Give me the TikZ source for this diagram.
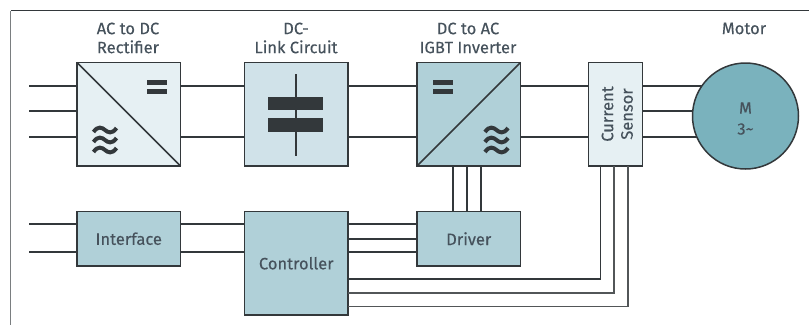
\documentclass[tikz,border=0pt]{standalone}
\usepackage{fontspec}
\setmainfont[FakeBold=0.25]{Fira Sans}
\definecolor{ink}{HTML}{33383B}
\definecolor{txt}{HTML}{46525C}
\definecolor{paleb}{HTML}{E6F0F3}
\definecolor{midb}{HTML}{D0E2E9}
\definecolor{tealb}{HTML}{B0D0D8}
\definecolor{motorb}{HTML}{7AB2BD}
\tikzset{
  x=1pt,y=-1pt,
  blockbox/.style={draw=ink,line width=1.5pt,inner sep=0pt,outer sep=0pt,anchor=north west,font=\fontsize{16.5}{19}\selectfont,text=txt},
  wire/.style={ink,line width=2pt},
  thickwire/.style={ink,line width=2.6pt},
  thinwire/.style={ink,line width=1.6pt},
  greywire/.style={ink!85,line width=1.6pt},
  lab/.style={text=txt,font=\fontsize{16.5}{19}\selectfont,align=center,inner sep=0pt},
  wave/.style={ink,line width=4pt}
}
\newcommand{\tildes}[2]{%
  \foreach \dy in {-10,0,10}{
    \draw[wave] (#1-11.5,#2+\dy+2) .. controls (#1-7,#2+\dy-4.5) and (#1-3,#2+\dy-2.5) .. (#1,#2+\dy) .. controls (#1+3,#2+\dy+2.5) and (#1+7,#2+\dy+4.5) .. (#1+11.5,#2+\dy-2);
  }}
\newcommand{\equalsign}[2]{%
  \fill[ink] (#1,#2) rectangle (#1+20,#2+5);
  \fill[ink] (#1,#2+9) rectangle (#1+20,#2+14);}
\begin{document}
\begin{tikzpicture}
\useasboundingbox (0,0) rectangle (809,325);
% frame
\draw[ink,line width=1pt] (809,10.5) -- (10.5,10.5);
\draw[ink!65,line width=1.5pt] (10.5,10.5) -- (10.5,325);
% nodes
\node[blockbox,fill=paleb,minimum width=103.5pt,minimum height=103.5pt] (rect) at (77,62.5) {};
\node[blockbox,fill=midb,minimum width=103.5pt,minimum height=103.5pt] (link) at (244.5,62.5) {};
\node[blockbox,fill=tealb,minimum width=103.5pt,minimum height=103.5pt] (inv) at (417,62.5) {};
\node[blockbox,fill=paleb,minimum width=54pt,minimum height=103.5pt] (sens) at (588.5,62.5) {};
\node[blockbox,fill=tealb,minimum width=103.5pt,minimum height=54.5pt] (iface) at (77,211.5) {Interface};
\node[blockbox,fill=tealb,minimum width=103.5pt,minimum height=103.5pt] (ctrl) at (244.5,211.5) {Controller};
\node[blockbox,fill=tealb,minimum width=103.5pt,minimum height=54.5pt] (drv) at (417,211.5) {Driver};
% free ends
\coordinate (a1) at (29,86);
\coordinate (a2) at (29,111);
\coordinate (a3) at (29,137);
\coordinate (b1) at (29,224);
\coordinate (b2) at (29,252);
\coordinate (m1) at (745,86);
\coordinate (m2) at (745,111);
\coordinate (m3) at (745,137);
% power wires
\foreach \c in {a1,a2,a3} \draw[wire] (\c) -- (\c -| rect.west);
\foreach \c in {a1,a3}{
  \draw[wire] (\c -| rect.east) -- (\c -| link.west);
  \draw[wire] (\c -| link.east) -- (\c -| inv.west);
  \draw[wire] (\c -| inv.east) -- (\c -| sens.west);
}
\foreach \c in {m1,m2,m3} \draw[wire] (\c -| sens.east) -- (\c);
% interface wires
\draw[wire] (b1) -- (b1 -| iface.west);
\draw[thickwire] (b2) -- (b2 -| iface.west);
\draw[wire] (b1 -| iface.east) -- (b1 -| ctrl.west);
\draw[thickwire] (b2 -| iface.east) -- (b2 -| ctrl.west);
% controller to driver
\draw[wire] (b1 -| ctrl.east) -- (b1 -| drv.west);
\coordinate (b3) at (29,239);
\draw[wire] (b3 -| ctrl.east) -- (b3 -| drv.west);
\draw[thickwire] (b2 -| ctrl.east) -- (b2 -| drv.west);
% driver to inverter
\foreach \x in {453,467,481} \draw[wire] (\x,0 |- inv.south) -- (\x,0 |- drv.north);
% sensor feedback
\coordinate (f1) at (600.5,279);
\coordinate (f2) at (614,293);
\coordinate (f3) at (628,306.5);
\draw[thinwire] (f1 |- sens.south) -- (f1) -- (f1 -| ctrl.east);
\draw[greywire] (f2 |- sens.south) -- (f2) -- (f2 -| ctrl.east);
\draw[greywire] (f3 |- sens.south) -- (f3) -- (f3 -| ctrl.east);
% motor
\node[circle,draw=ink,line width=1.5pt,fill=motorb,minimum size=106pt,inner sep=0pt] (motor) at (745.5,116) {};
\node[lab] (mm) at (745.5,108) {M};
\node[lab] (mt) at (745.5,129) {3\char`\~};
% rectifier symbols
\draw[ink,line width=1.5pt] (rect.north west) -- (rect.south east);
\equalsign{147}{80}
\tildes{105}{140}
% capacitor
\draw[ink,line width=2pt] (296,74) -- (296,156);
\fill[ink] (268,97) rectangle (323,110);
\fill[ink] (268,118) rectangle (323,132);
% inverter symbols
\draw[ink,line width=1.5pt] (inv.south west) -- (inv.north east);
\equalsign{433}{80}
\tildes{496.5}{140}
% sensor text
\node[lab,rotate=90] (s1) at (607.5,114) {Current};
\node[lab,rotate=90] (s2) at (627,114) {Sensor};
% titles
\node[lab] (t1) at (128,38) {AC to DC\\Rectifier};
\node[lab] (t2) at (296,38) {DC-\\Link Circuit};
\node[lab] (t3) at (468,38) {DC to AC\\IGBT Inverter};
\node[lab] (t4) at (744,28.5) {Motor};
\end{tikzpicture}
\end{document}
